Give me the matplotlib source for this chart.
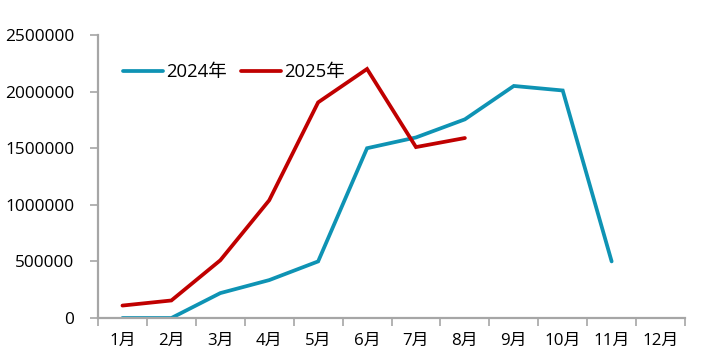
import numpy as np
import matplotlib.pyplot as plt

plt.rcParams['font.family'] = ['Open Sans', 'Noto Sans CJK SC', 'DejaVu Sans']

# data
months = ['1月', '2月', '3月', '4月', '5月', '6月', '7月', '8月', '9月', '10月', '11月', '12月']
y2024 = [0, 0, 220000, 335000, 500000, 1500000, 1595000, 1755000, 2050000, 2010000, 500000]
y2025 = [110000, 155000, 510000, 1040000, 1905000, 2200000, 1510000, 1590000]
yticks = [0, 500000, 1000000, 1500000, 2000000, 2500000]

blue = '#0E93B4'
red = '#C00000'
grey = '#A6A6A6'

fig = plt.figure(figsize=(7.02, 3.58), dpi=100)
ax = fig.add_axes([0.1396, 0.1117, 0.8362, 0.7905])

x = np.arange(len(months))
ax.plot(x[:len(y2024)], y2024, color=blue, lw=2.7, solid_capstyle='round', solid_joinstyle='miter', label='2024年')
ax.plot(x[:len(y2025)], y2025, color=red, lw=2.7, solid_capstyle='round', solid_joinstyle='miter', label='2025年')

ax.set_xlim(-0.5, len(months) - 0.5)
ax.set_ylim(0, 2500000)

# category ticks between months, labels at centers
ax.set_xticks(np.arange(-0.5, len(months), 1.0))
ax.set_xticklabels([])
ax.set_xticks(x, minor=True)
ax.set_xticklabels(months, minor=True, fontsize=12.2)
ax.tick_params(axis='x', which='major', length=6, width=1.2, color=grey, direction='out')
ax.tick_params(axis='x', which='minor', length=0, pad=11)

ax.set_yticks(yticks)
ax.set_yticklabels([str(v) for v in yticks], fontsize=12.4)
ax.tick_params(axis='y', length=6, width=1.2, color=grey, pad=11)

for s in ['top', 'right']:
    ax.spines[s].set_visible(False)
for s in ['left', 'bottom']:
    ax.spines[s].set_color(grey)
    ax.spines[s].set_linewidth(1.6)

ax.legend(loc='center left', bbox_to_anchor=(0.042, 0.869), ncol=2, frameon=False,
          fontsize=13.3, handlelength=2.2, handletextpad=0.15, columnspacing=0.75,
          borderpad=0, borderaxespad=0)

fig.savefig('out.png', dpi=100)
